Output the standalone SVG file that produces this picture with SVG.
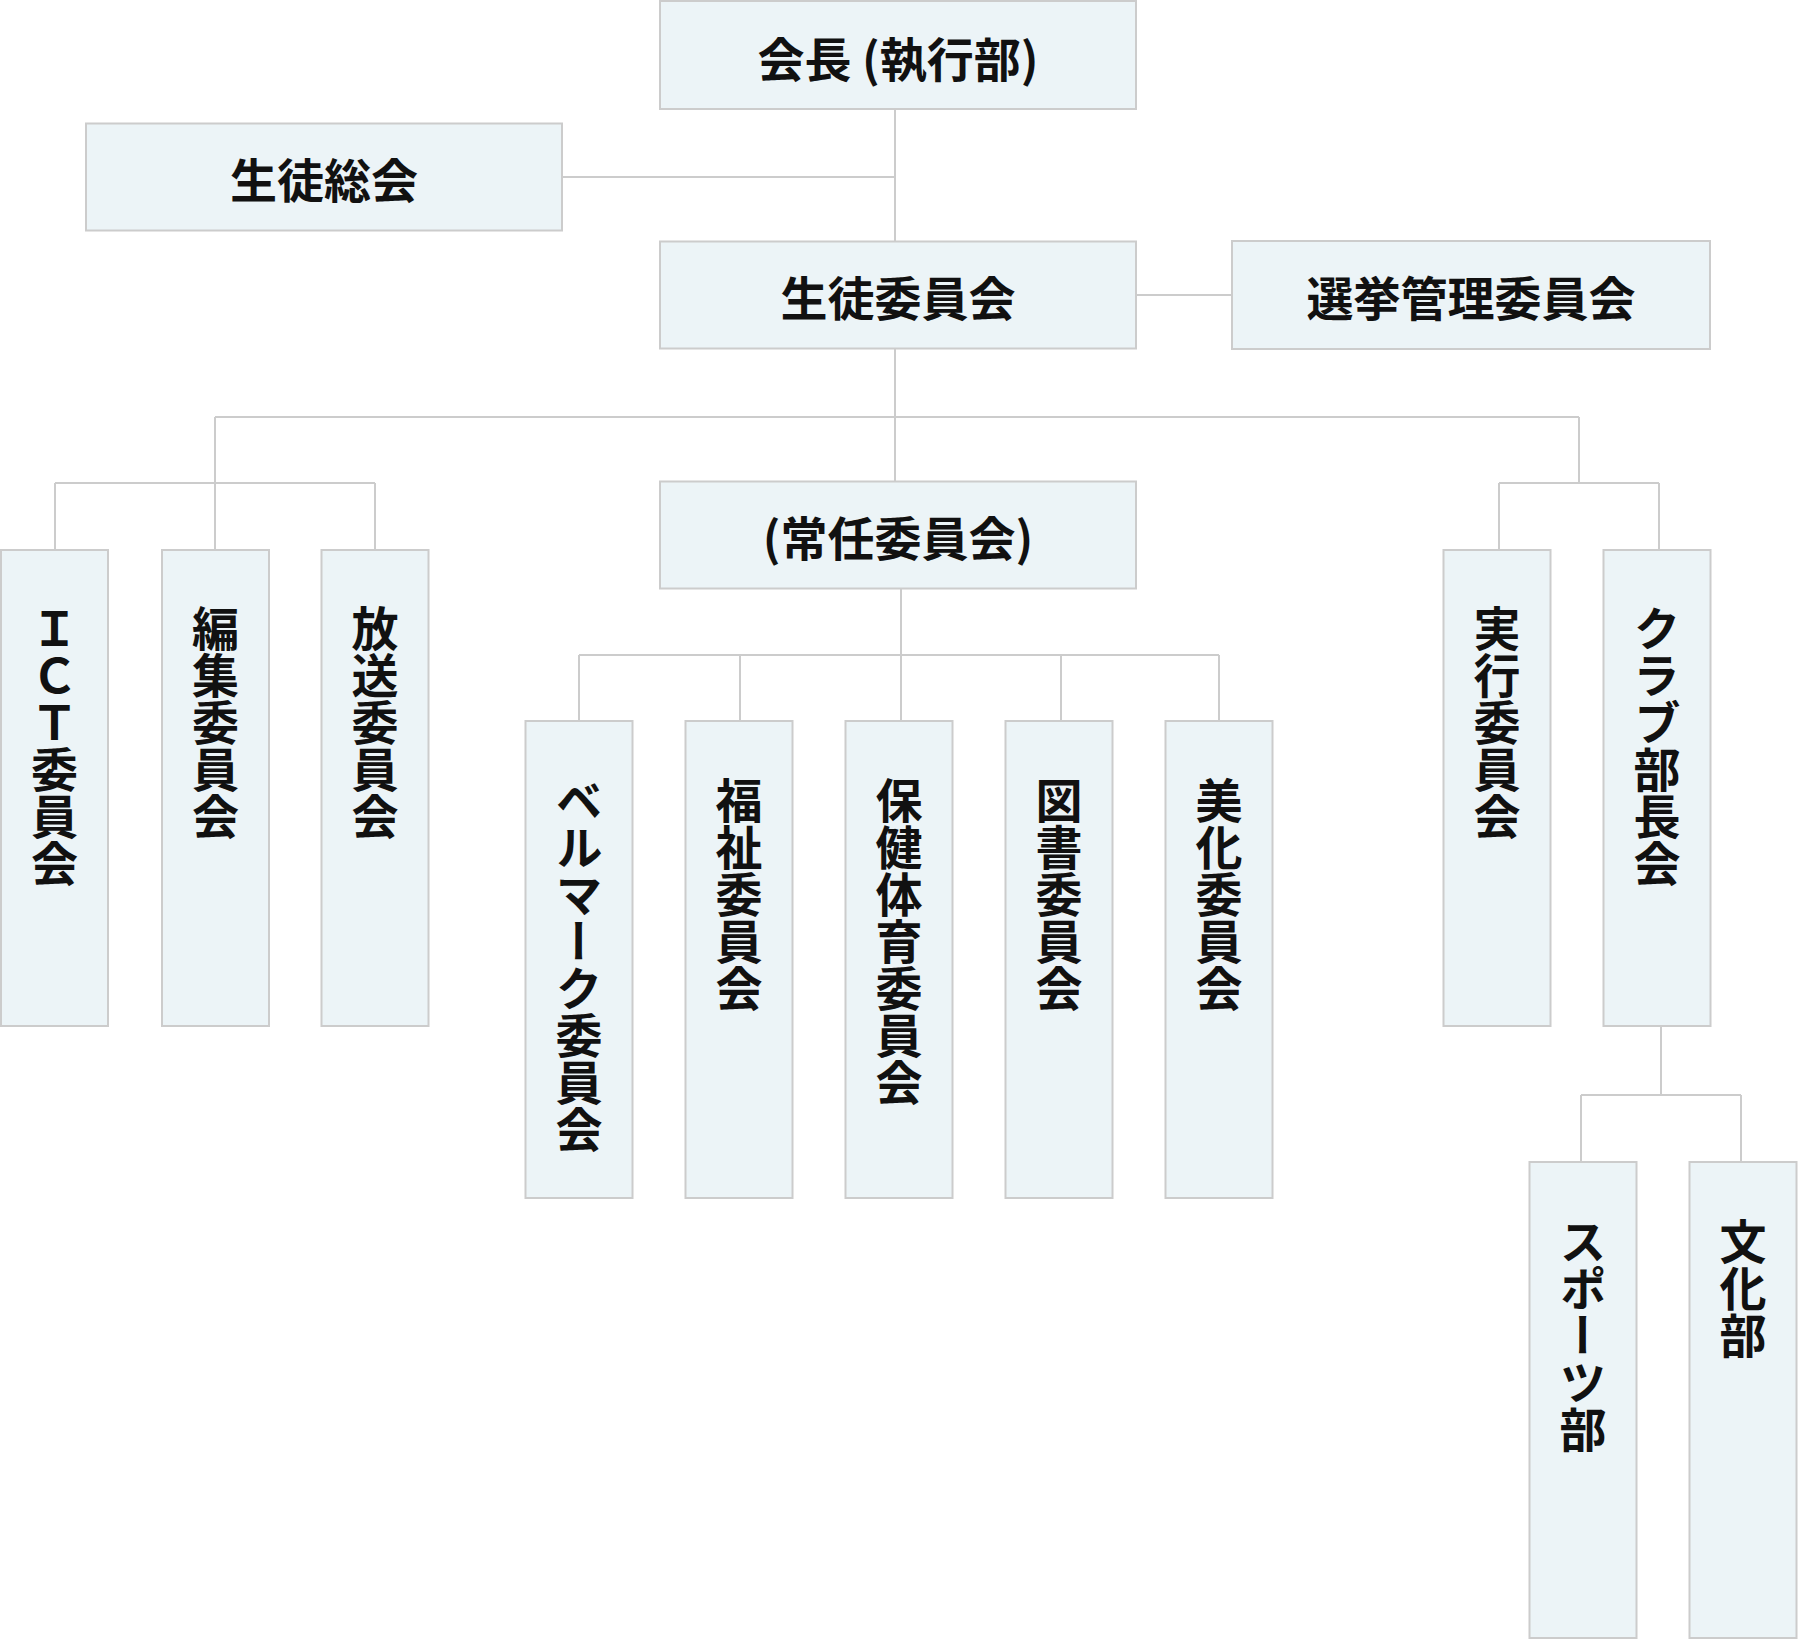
<svg xmlns="http://www.w3.org/2000/svg" width="1798" height="1640" viewBox="0 0 1798 1640">
<style>
.box{fill:#ECF4F7;stroke:#CCCCCC;stroke-width:2}
.con{fill:none;stroke:#CCCCCC;stroke-width:2}
.t{font-family:"Noto Sans CJK JP","Noto Sans CJK SC",sans-serif;font-weight:700;font-size:47px;fill:#111}
.h{text-anchor:middle;dominant-baseline:central}
.v{writing-mode:vertical-rl;text-anchor:start}
</style>
<rect width="1798" height="1640" fill="#FFFFFF"/>
<g id="connectors" class="con">
<path d="M895 109V241"/>
<path d="M562 177H895"/>
<path d="M1136 295H1232"/>
<path d="M895 349V482"/>
<path d="M215 417H1579"/>
<path d="M215 417V483M55 483H375M55 483V550M215 483V550M375 483V550"/>
<path d="M1579 417V483M1499 483H1659M1499 483V550M1659 483V550"/>
<path d="M901 589V655M579 655H1219M579 655V721M740 655V721M901 655V721M1061 655V721M1219 655V721"/>
<path d="M1661 1027V1095M1581 1095H1741M1581 1095V1162M1741 1095V1162"/>
</g>
<g id="n-kaicho"><rect class="box" x="660" y="1" width="476" height="108"/><text class="t h" x="898" y="56">会長 (執行部)</text></g>
<g id="n-seitosokai"><rect class="box" x="86" y="123.5" width="476" height="107"/><text class="t h" x="324" y="177">生徒総会</text></g>
<g id="n-seitoiinkai"><rect class="box" x="660" y="241.5" width="476" height="107"/><text class="t h" x="898" y="295">生徒委員会</text></g>
<g id="n-senkyo"><rect class="box" x="1232" y="241" width="478" height="108"/><text class="t h" x="1471" y="295">選挙管理委員会</text></g>
<g id="n-jonin"><rect class="box" x="660" y="481.5" width="476" height="107"/><text class="t h" x="898" y="535">(常任委員会)</text></g>
<g id="n-ict"><rect class="box" x="1" y="550" width="107" height="476"/><text class="t v" x="54.5" y="605">ＩＣＴ委員会</text></g>
<g id="n-henshu"><rect class="box" x="162" y="550" width="107" height="476"/><text class="t v" x="215.5" y="605">編集委員会</text></g>
<g id="n-hoso"><rect class="box" x="321.5" y="550" width="107" height="476"/><text class="t v" x="375" y="605">放送委員会</text></g>
<g id="n-bellmark"><rect class="box" x="525.5" y="721" width="107" height="477"/><text class="t v" x="579" y="777">ベルマーク委員会</text></g>
<g id="n-fukushi"><rect class="box" x="685.5" y="721" width="107" height="477"/><text class="t v" x="739" y="777">福祉委員会</text></g>
<g id="n-hoken"><rect class="box" x="845.5" y="721" width="107" height="477"/><text class="t v" x="899" y="777">保健体育委員会</text></g>
<g id="n-tosho"><rect class="box" x="1005.5" y="721" width="107" height="477"/><text class="t v" x="1059" y="777">図書委員会</text></g>
<g id="n-bika"><rect class="box" x="1165.5" y="721" width="107" height="477"/><text class="t v" x="1219" y="777">美化委員会</text></g>
<g id="n-jikko"><rect class="box" x="1443.5" y="550" width="107" height="476"/><text class="t v" x="1497" y="605">実行委員会</text></g>
<g id="n-club"><rect class="box" x="1603.5" y="550" width="107" height="476"/><text class="t v" x="1657" y="605">クラブ部長会</text></g>
<g id="n-sports"><rect class="box" x="1529.5" y="1162" width="107" height="476"/><text class="t v" x="1583" y="1218">スポーツ部</text></g>
<g id="n-bunka"><rect class="box" x="1689.5" y="1162" width="107" height="476"/><text class="t v" x="1743" y="1218">文化部</text></g>
</svg>
